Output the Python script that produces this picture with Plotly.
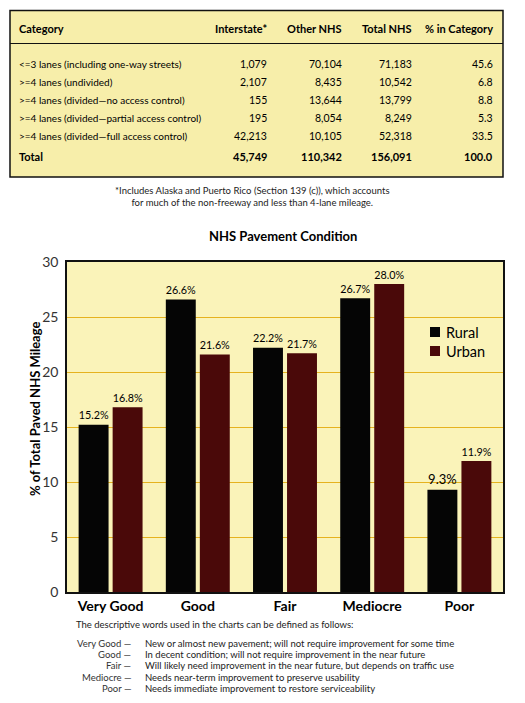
"""
NHS lane-count table and pavement condition bar chart (rural vs urban).
"""

import plotly.graph_objects as go

W, H = 525, 703
OFF = 8  # page body margin the browser adds round the plot div
FW, FH = W - OFF, H - OFF
FONT = "Lato"

# Table data
table_headers = ["Category", "Interstate*", "Other NHS", "Total NHS", "% in Category"]
lane_categories = [
    "&lt;=3 lanes (including one-way streets)",
    "&gt;=4 lanes (undivided)",
    "&gt;=4 lanes (divided—no access control)",
    "&gt;=4 lanes (divided—partial access control)",
    "&gt;=4 lanes (divided—full access control)",
]
interstate = [1079, 2107, 155, 195, 42213]
other_nhs = [70104, 8435, 13644, 8054, 10105]
total_nhs = [71183, 10542, 13799, 8249, 52318]
pct_in_category = [45.6, 6.8, 8.8, 5.3, 33.5]
totals = [45749, 110342, 156091, 100.0]

footnote = ("*Includes Alaska and Puerto Rico (Section 139 (c)), which accounts<br>"
            "for much of the non-freeway and less than 4-lane mileage.")

# Chart data
conditions = ["Very Good", "Good", "Fair", "Mediocre", "Poor"]
rural = [15.2, 26.6, 22.2, 26.7, 9.3]
urban = [16.8, 21.6, 21.7, 28.0, 11.9]
series_colors = {"Rural": "#050505", "Urban": "#4A0909"}

# Definitions
def_intro = "The descriptive words used in the charts can be defined as follows:"
def_terms = ["Very Good", "Good", "Fair", "Mediocre", "Poor"]
def_texts = [
    "New or almost new pavement; will not require improvement for some time",
    "In decent condition; will not require improvement in the near future",
    "Will likely need improvement in the near future, but depends on traffic use",
    "Needs near-term improvement to preserve usability",
    "Needs immediate improvement to restore serviceability",
]


def px(x):
    return (x - OFF) / FW


def py(y):
    return 1 - (y - OFF) / FH


def note(x, y, text, size=11, xanchor="left", bold=False, color="black", align="left"):
    if bold:
        text = f"<b>{text}</b>"
    return dict(
        x=px(x), y=py(y), xref="paper", yref="paper", text=text, showarrow=False,
        xanchor=xanchor, yanchor="middle", align=align,
        font=dict(family=FONT, size=size, color=color),
    )


fig = go.Figure()

for name, vals in [("Rural", rural), ("Urban", urban)]:
    fig.add_trace(go.Bar(
        x=conditions, y=vals, name=name,
        marker=dict(color=series_colors[name], line=dict(width=0)),
        texttemplate="%{y:.1f}%", textposition="outside",
        textfont=dict(family=FONT, size=13, color="black"),
        cliponaxis=False, showlegend=False,
    ))

annotations = []
shapes = []

# table header + rows
col_x = [17, 269, 344, 414, 495]
annotations.append(note(col_x[0], 28, table_headers[0], bold=True))
for cx, h in zip(col_x[1:], table_headers[1:]):
    annotations.append(note(cx, 28, h, bold=True, xanchor="right"))

row_y = [64, 82, 100, 118, 136]
for i, ry in enumerate(row_y):
    annotations.append(note(col_x[0], ry, lane_categories[i], size=10))
    vals = [f"{interstate[i]:,}", f"{other_nhs[i]:,}", f"{total_nhs[i]:,}", f"{pct_in_category[i]:.1f}"]
    for cx, v in zip(col_x[1:], vals):
        annotations.append(note(cx, ry, v, size=10.5, xanchor="right"))

annotations.append(note(col_x[0], 157, "Total", bold=True))
tot_vals = [f"{totals[0]:,}", f"{totals[1]:,}", f"{totals[2]:,}", f"{totals[3]:.1f}"]
for cx, v in zip(col_x[1:], tot_vals):
    annotations.append(note(cx, 157, v, bold=True, xanchor="right"))

annotations.append(note(253, 197, footnote, size=9.5, xanchor="center", align="center", color="#222"))

# chart title and y-axis title
annotations.append(note(283, 236, "NHS Pavement Condition", size=13, xanchor="center", bold=True))
annotations.append(dict(
    x=px(25), y=py(409), xref="paper", yref="paper", showarrow=False,
    text="<b>% of Total Paved NHS Mileage</b>", textangle=-90,
    font=dict(family=FONT, size=13, color="black"),
))

# legend (hand placed)
for name, ly in [("Rural", 332), ("Urban", 351)]:
    shapes.append(dict(
        type="rect", xref="paper", yref="paper",
        x0=px(430), x1=px(440), y0=py(ly + 5), y1=py(ly - 5),
        fillcolor=series_colors[name], line=dict(width=0),
    ))
    annotations.append(note(444, ly, name, size=14.5))

# definitions
annotations.append(note(74, 624, def_intro, size=9.5, color="#222"))
def_y = [643, 654, 665, 677, 688]
for term, text, dy in zip(def_terms, def_texts, def_y):
    annotations.append(note(133, dy, f"{term} —", size=9.5, xanchor="right", color="#333"))
    annotations.append(note(143, dy, text, size=9.5, color="#222"))

shapes += [
    dict(type="rect", xref="paper", yref="paper",
         x0=px(10), x1=px(503), y0=py(177), y1=py(10.5),
         fillcolor="#F7EEAA", line=dict(color="#111", width=1.5), layer="below"),
    dict(type="line", xref="paper", yref="paper",
         x0=px(10), x1=px(503), y0=py(43.5), y1=py(43.5),
         line=dict(color="#111", width=1)),
]

fig.update_layout(
    width=FW, height=FH,
    margin=dict(l=0, r=0, t=0, b=0),
    paper_bgcolor="white",
    plot_bgcolor="#FAF3B9",
    barmode="group",
    bargap=0.22,
    bargroupgap=0.12,
    xaxis=dict(
        domain=[px(67), px(503)],
        showline=True, linecolor="#111", linewidth=1.5, mirror=True,
        tickfont=dict(family=FONT, size=14, color="black"),
        tickprefix="<b>", ticksuffix="</b>",
        automargin=False,
    ),
    yaxis=dict(
        domain=[py(592), py(262)],
        range=[0, 30], dtick=5,
        showgrid=True, gridcolor="#E6B21E", gridwidth=1,
        showline=True, linecolor="#111", linewidth=1.5, mirror=True,
        zeroline=False,
        tickfont=dict(family=FONT, size=14, color="#333"),
        ticklabelstandoff=4,
        automargin=False,
    ),
    annotations=annotations,
    shapes=shapes,
)

fig.write_html("out.html")
